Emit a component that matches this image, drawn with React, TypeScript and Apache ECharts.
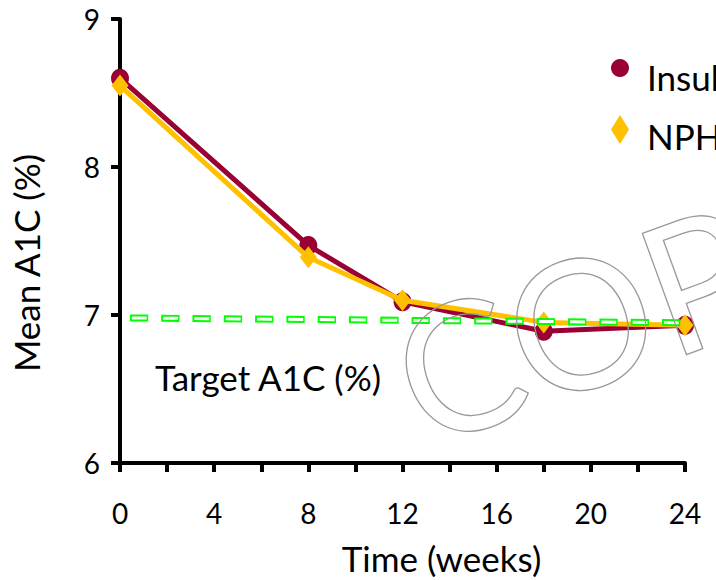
import React, { useEffect, useRef } from "react";
import * as echarts from "echarts";

const weeks = [0, 8, 12, 18, 24];
const insulin = [8.6, 7.47, 7.09, 6.89, 6.93];
const nph = [8.55, 7.39, 7.1, 6.95, 6.93];
const targetX = [0.42, 25.2];
const targetY = [6.98, 6.946];
const seriesNames = ["Insulin", "NPH"];
const xAxisName = "Time (weeks)";
const yAxisName = "Mean A1C (%)";
const targetLabel = "Target A1C (%)";
const watermark = "COPY";

const FONT = "Lato";

export default function App() {
  const ref = useRef<HTMLDivElement>(null);
  useEffect(() => {
    if (!ref.current) return;
    const chart = echarts.init(ref.current, undefined, { renderer: "svg" });
    const pair = (xs: number[], ys: number[]) => xs.map((x, i) => [x, ys[i]]);
    const targetData = pair(targetX, targetY);
    const legendText = (padTop: number) => ({
      fontSize: 35,
      fontFamily: FONT,
      color: "#000",
      rich: {
        a: { fontSize: 35, fontFamily: FONT, color: "#000", padding: [padTop, 0, 0, 13] },
      },
    });
    chart.setOption({
      animation: false,
      backgroundColor: "#fff",
      textStyle: { fontFamily: FONT },
      grid: { left: 117, right: 31, top: 19, bottom: 117, containLabel: false },
      xAxis: {
        type: "value",
        min: 0,
        max: 24,
        interval: 2,
        name: xAxisName,
        nameLocation: "middle",
        nameGap: 77,
        nameTextStyle: { fontSize: 35, fontFamily: FONT, color: "#000", padding: [0, 0, 0, 78] },
        axisLine: { lineStyle: { color: "#000", width: 4 } },
        axisTick: { show: true, length: 9, inside: false, lineStyle: { color: "#000", width: 4 } },
        axisLabel: {
          fontSize: 28,
          fontFamily: FONT,
          color: "#000",
          margin: 36,
          formatter: (v: number) => (v % 4 === 0 ? String(v) : ""),
        },
        splitLine: { show: false },
      },
      yAxis: {
        type: "value",
        min: 6,
        max: 9,
        interval: 1,
        name: yAxisName,
        nameLocation: "middle",
        nameGap: 77,
        nameTextStyle: { fontSize: 35, fontFamily: FONT, color: "#000", padding: [0, 44, 0, 0] },
        axisLine: { show: true, lineStyle: { color: "#000", width: 4 } },
        axisTick: { show: true, length: 9, inside: false, lineStyle: { color: "#000", width: 4 } },
        axisLabel: { fontSize: 28, fontFamily: FONT, color: "#000", margin: 20 },
        splitLine: { show: false },
      },
      legend: [
        {
          left: 606,
          top: 54,
          itemWidth: 18,
          itemHeight: 19,
          selectedMode: false,
          itemStyle: { borderWidth: 0 },
          formatter: "{a|{name}}",
          textStyle: legendText(17),
          data: [{ name: seriesNames[0], icon: "circle" }],
        },
        {
          left: 606,
          top: 110,
          itemWidth: 18,
          itemHeight: 29,
          selectedMode: false,
          itemStyle: { borderWidth: 0 },
          formatter: "{a|{name}}",
          textStyle: legendText(12),
          data: [{ name: seriesNames[1], icon: "diamond" }],
        },
      ],
      series: [
        {
          name: seriesNames[0],
          type: "line",
          data: pair(weeks, insulin),
          symbol: "circle",
          symbolSize: [18, 19],
          lineStyle: { color: "#990033", width: 5 },
          itemStyle: { color: "#990033", borderWidth: 0 },
          z: 2,
        },
        {
          name: seriesNames[1],
          type: "line",
          data: pair(weeks, nph),
          symbol: "diamond",
          symbolSize: [17, 22],
          lineStyle: { color: "#FFC000", width: 5 },
          itemStyle: { color: "#FFC000", borderWidth: 0 },
          z: 3,
        },
        {
          name: "target-outline",
          type: "line",
          data: targetData,
          symbol: "none",
          clip: false,
          silent: true,
          lineStyle: { color: "#00FF00", width: 7, type: [18.3, 13] },
          z: 4,
        },
        {
          name: "target-fill",
          type: "line",
          data: targetData,
          symbol: "none",
          clip: false,
          silent: true,
          lineStyle: { color: "#fff", width: 3, type: [14.8, 16.5], dashOffset: -1.75 },
          z: 5,
        },
      ],
      graphic: [
        {
          type: "text",
          x: 155,
          y: 377,
          style: { text: targetLabel, fontSize: 35, fontFamily: FONT, fill: "#000", verticalAlign: "middle", align: "left" },
          z: 10,
        },
        {
          type: "text",
          x: 401,
          y: 384,
          rotation: (20 * Math.PI) / 180,
          silent: true,
          style: {
            text: watermark,
            fontSize: 180,
            fontFamily: FONT,
            fill: "none",
            stroke: "#999",
            lineWidth: 1.3,
            verticalAlign: "middle",
            align: "left",
          },
          z: 100,
        },
      ],
    });
    return () => chart.dispose();
  }, []);
  return <div ref={ref} style={{ position: "fixed", left: 0, top: 0, width: 716, height: 580 }} />;
}
